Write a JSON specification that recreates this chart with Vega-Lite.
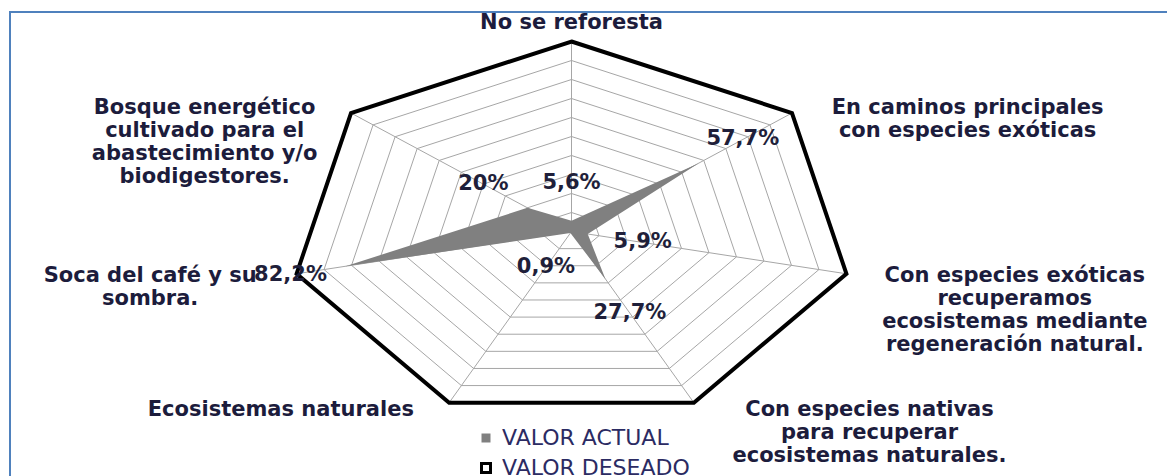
{
  "$schema": "https://vega.github.io/schema/vega-lite/v6.json",
  "width": 1160,
  "height": 467,
  "autosize": {"type": "none"},
  "padding": {"left": 10, "top": 12, "right": -3, "bottom": -3},
  "background": "white",
  "config": {
    "view": {"stroke": "#4F81BD", "strokeWidth": 2},
    "text": {"font": "DejaVu Sans"},
    "legend": {
      "orient": "none",
      "legendX": 465,
      "legendY": 415,
      "padding": 0,
      "symbolType": "square",
      "symbolSize": 81,
      "symbolStrokeWidth": 3,
      "labelFont": "DejaVu Sans",
      "labelFontSize": 22,
      "labelColor": "#2b2b63",
      "rowPadding": 8,
      "labelOffset": 5,
      "labelLimit": 400
    }
  },
  "datasets": {
    "radar": [
      {"k": 0, "label": ["No se reforesta"], "VALOR ACTUAL": 5.6, "VALOR DESEADO": 100},
      {"k": 1, "label": ["En caminos principales", "con especies exóticas"], "VALOR ACTUAL": 57.7, "VALOR DESEADO": 100},
      {"k": 2, "label": ["Con especies exóticas", "recuperamos", "ecosistemas mediante", "regeneración natural."], "VALOR ACTUAL": 5.9, "VALOR DESEADO": 100},
      {"k": 3, "label": ["Con especies nativas", "para recuperar", "ecosistemas naturales."], "VALOR ACTUAL": 27.7, "VALOR DESEADO": 100},
      {"k": 4, "label": ["Ecosistemas naturales"], "VALOR ACTUAL": 0.9, "VALOR DESEADO": 100},
      {"k": 5, "label": ["Soca del café y su", "sombra."], "VALOR ACTUAL": 82.2, "VALOR DESEADO": 100},
      {"k": 6, "label": ["Bosque energético", "cultivado para el", "abastecimiento y/o", "biodigestores."], "VALOR ACTUAL": 20, "VALOR DESEADO": 100}
    ],
    "rings": [
      {"ring": 0.1}, {"ring": 0.2}, {"ring": 0.3}, {"ring": 0.4}, {"ring": 0.5},
      {"ring": 0.6}, {"ring": 0.7}, {"ring": 0.8}, {"ring": 0.9}
    ]
  },
  "encoding": {
    "x": {"field": "x", "type": "quantitative", "scale": {"domain": [-1.9911, 2.1223], "nice": false, "zero": false}, "axis": null},
    "y": {"field": "y", "type": "quantitative", "scale": {"domain": [-1.3026, 1.1553], "nice": false, "zero": false}, "axis": null}
  },
  "layer": [
    {
      "data": {"name": "rings"},
      "transform": [
        {"calculate": "[0,1,2,3,4,5,6]", "as": "k"},
        {"flatten": ["k"]},
        {"calculate": "datum.ring*sin(datum.k*2*PI/7)", "as": "x"},
        {"calculate": "datum.ring*cos(datum.k*2*PI/7)", "as": "y"}
      ],
      "mark": {"type": "line", "interpolate": "linear-closed", "stroke": "#A6A6A6", "strokeWidth": 1},
      "encoding": {
        "detail": {"field": "ring", "type": "nominal"},
        "order": {"field": "k", "type": "quantitative"}
      }
    },
    {
      "data": {"name": "radar"},
      "transform": [
        {"calculate": "sin(datum.k*2*PI/7)", "as": "x"},
        {"calculate": "cos(datum.k*2*PI/7)", "as": "y"}
      ],
      "mark": {"type": "rule", "stroke": "#A6A6A6", "strokeWidth": 1},
      "encoding": {
        "x2": {"datum": 0},
        "y2": {"datum": 0}
      }
    },
    {
      "data": {"name": "radar"},
      "transform": [
        {"fold": ["VALOR ACTUAL", "VALOR DESEADO"], "as": ["serie", "valor"]},
        {"calculate": "datum.valor/100*sin(datum.k*2*PI/7)", "as": "x"},
        {"calculate": "datum.valor/100*cos(datum.k*2*PI/7)", "as": "y"}
      ],
      "mark": {"type": "line", "interpolate": "linear-closed", "strokeWidth": 4, "strokeJoin": "miter"},
      "encoding": {
        "detail": {"field": "serie", "type": "nominal"},
        "order": {"field": "k", "type": "quantitative"},
        "fill": {
          "field": "serie", "type": "nominal",
          "scale": {"domain": ["VALOR ACTUAL", "VALOR DESEADO"], "range": ["#808080", "transparent"]},
          "legend": {"title": null}
        },
        "stroke": {
          "field": "serie", "type": "nominal",
          "scale": {"domain": ["VALOR ACTUAL", "VALOR DESEADO"], "range": ["transparent", "#000000"]},
          "legend": {"title": null}
        }
      }
    },
    {
      "data": {"name": "radar"},
      "transform": [
        {"calculate": "datum['VALOR ACTUAL']/100 + 0.2", "as": "r"},
        {"calculate": "datum.r*sin(datum.k*2*PI/7)", "as": "x"},
        {"calculate": "datum.r*cos(datum.k*2*PI/7)", "as": "y"},
        {"calculate": "replace(toString(datum['VALOR ACTUAL']), '.', ',') + '%'", "as": "txt"}
      ],
      "mark": {"type": "text", "fontSize": 21, "fontWeight": "bold", "color": "#1f1f3a", "align": "center", "baseline": "middle"},
      "encoding": {
        "text": {"field": "txt", "type": "nominal"}
      }
    },
    {
      "data": {"name": "radar"},
      "transform": [
        {"calculate": "sin(datum.k*2*PI/7)", "as": "sx"},
        {"calculate": "cos(datum.k*2*PI/7)", "as": "cy"},
        {"calculate": "max(length(datum.label[0]), length(datum.label[1] || ''), length(datum.label[2] || ''), length(datum.label[3] || ''))", "as": "L"},
        {"calculate": "abs(datum.sx) < 0.1 ? 0 : datum.sx + (datum.sx > 0 ? 1 : -1) * (0.053 + datum.L*0.0259)", "as": "x"},
        {"calculate": "datum.k == 0 ? 1.095 : 1.042*datum.cy", "as": "y"}
      ],
      "mark": {"type": "text", "fontSize": 21, "fontWeight": "bold", "color": "#1c1c3c", "align": "center", "baseline": "middle", "lineHeight": 23},
      "encoding": {
        "text": {"field": "label", "type": "nominal"}
      }
    }
  ]
}
